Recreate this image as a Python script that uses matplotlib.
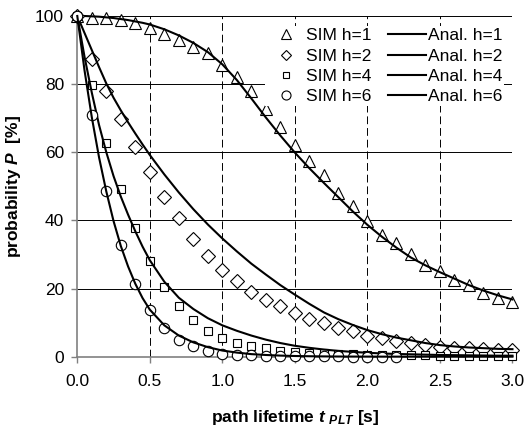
import matplotlib
matplotlib.use("Agg")
import matplotlib.pyplot as plt
from matplotlib.lines import Line2D

plt.rcParams['font.family'] = ['Liberation Sans', 'DejaVu Sans']
plt.rcParams['mathtext.fontset'] = 'custom'
plt.rcParams['mathtext.rm'] = 'Liberation Sans'
plt.rcParams['mathtext.it'] = 'Liberation Sans:italic'
plt.rcParams['mathtext.bf'] = 'Liberation Sans:bold'
plt.rcParams['mathtext.bfit'] = 'Liberation Sans:bold:italic'

# simulation points, every 0.1 s
t_sim = [0.0, 0.1, 0.2, 0.3, 0.4, 0.5, 0.6, 0.7, 0.8, 0.9, 1.0,
         1.1, 1.2, 1.3, 1.4, 1.5, 1.6, 1.7, 1.8, 1.9, 2.0,
         2.1, 2.2, 2.3, 2.4, 2.5, 2.6, 2.7, 2.8, 2.9, 3.0]
sim_h1 = [100, 99.5, 99.3, 98.8, 97.8, 96.6, 94.6, 93.0, 91.0, 89.0, 85.6,
          82.2, 78.0, 72.8, 67.5, 62.0, 57.5, 53.4, 48.0, 44.3, 39.7,
          35.8, 33.3, 30.0, 27.0, 25.2, 22.6, 21.0, 18.8, 17.2, 16.0]
sim_h2 = [100, 87.4, 78.0, 69.8, 61.6, 54.3, 47.0, 40.6, 34.5, 29.6, 25.4,
          22.3, 19.1, 16.7, 15.0, 12.8, 11.1, 10.0, 8.3, 7.5, 6.2,
          5.4, 4.6, 3.9, 3.4, 2.9, 2.5, 2.5, 2.2, 2.0, 2.0]
sim_h4 = [100, 79.7, 62.6, 49.3, 37.7, 28.1, 20.4, 14.8, 10.9, 7.6, 5.6,
          4.1, 3.0, 2.5, 1.7, 1.5, 1.2, 1.0, 0.8, 0.7, 0.6,
          0.5, 0.45, 0.4, 0.35, 0.3, 0.3, 0.25, 0.25, 0.2, 0.2]
sim_h6 = [100, 71.0, 48.7, 32.7, 21.4, 13.7, 8.3, 4.8, 3.1, 1.7, 0.8,
          0.6, 0.4, 0.3, 0.2, 0.2, 0.1, 0.1, 0.1, 0.05, 0.05,
          0.0, 0.0]

# analytical curves
t_ana = [0.0, 0.05, 0.1, 0.15, 0.2, 0.25, 0.3, 0.35, 0.4, 0.45, 0.5,
         0.6, 0.7, 0.8, 0.9, 1.0, 1.1, 1.2, 1.3, 1.4, 1.5,
         1.6, 1.7, 1.8, 1.9, 2.0, 2.1, 2.2, 2.3, 2.4, 2.5,
         2.6, 2.7, 2.8, 2.9, 3.0]
ana_h1 = [100, 100, 99.9, 99.8, 99.6, 99.4, 99.1, 98.8, 98.4, 98.0, 97.5,
          96.1, 94.3, 92.1, 89.4, 85.8, 81.2, 75.8, 70.2, 64.9, 59.9,
          55.3, 51.0, 46.8, 42.6, 38.7, 35.2, 32.0, 29.1, 26.8, 24.8,
          22.9, 21.0, 19.4, 18.0, 16.8]
ana_h2 = [100, 95.0, 90.0, 85.0, 80.2, 76.0, 72.3, 68.8, 65.5, 62.3, 59.2,
          53.5, 48.2, 43.3, 38.8, 34.7, 30.9, 27.3, 24.1, 21.0, 18.2,
          15.5, 13.0, 11.0, 9.3, 7.8, 6.6, 5.6, 4.8, 4.0, 3.4,
          3.0, 2.7, 2.5, 2.3, 2.2]
ana_h4 = [100, 88.0, 77.5, 68.0, 60.0, 53.0, 47.0, 41.7, 36.8, 32.3, 28.3,
          22.0, 17.3, 14.0, 11.3, 9.2, 7.6, 6.2, 5.0, 4.0, 3.2,
          2.6, 2.1, 1.7, 1.4, 1.15, 0.95, 0.8, 0.7, 0.6, 0.5,
          0.45, 0.4, 0.35, 0.3, 0.3]
ana_h6 = [100, 84.0, 70.3, 58.5, 48.5, 39.8, 32.5, 26.5, 21.4, 17.2, 13.8,
          9.2, 6.2, 4.2, 2.8, 1.8, 1.2, 0.75, 0.5, 0.32, 0.2,
          0.13, 0.08, 0.05, 0.03, 0.02, 0.01, 0.01, 0.0, 0.0, 0.0,
          0.0, 0.0, 0.0, 0.0, 0.0]

x_ticks = [0.0, 0.5, 1.0, 1.5, 2.0, 2.5, 3.0]
y_ticks = [0, 20, 40, 60, 80, 100]

fs = 12.5
fig = plt.figure(figsize=(5.24, 4.30), dpi=100)
ax = fig.add_axes([0.1475, 0.1705, 0.8305, 0.7923])

mk = dict(linestyle='none', mfc='white', mec='black', mew=0.8, clip_on=False)
ln = dict(color='black', lw=1.5, clip_on=False)

s1, = ax.plot(t_sim, sim_h1, marker='^', ms=8.5, zorder=3, **mk)
a1, = ax.plot(t_ana, ana_h1, zorder=4, **ln)
s2, = ax.plot(t_sim, sim_h2, marker='D', ms=7, zorder=5, **mk)
a2, = ax.plot(t_ana, ana_h2, zorder=6, **ln)
s4, = ax.plot(t_sim, sim_h4, marker='s', ms=5.8, zorder=7, **mk)
a4, = ax.plot(t_ana, ana_h4, zorder=8, **ln)
s6, = ax.plot(t_sim[:len(sim_h6)], sim_h6, marker='o', ms=7.5, zorder=9, **mk)
a6, = ax.plot(t_ana, ana_h6, zorder=10, **ln)

ax.set_xlim(0, 3.0)
ax.set_ylim(0, 100)
ax.set_xticks(x_ticks)
ax.set_xticklabels(['%.1f' % v for v in x_ticks])
ax.set_yticks(y_ticks)

for y in y_ticks[1:]:
    ax.axhline(y, color='black', lw=0.7, zorder=1)
for x in x_ticks[1:]:
    ax.axvline(x, color='black', lw=0.7, dashes=(8, 4), zorder=1)

for s in ['top', 'right']:
    ax.spines[s].set_visible(False)
for s in ['left', 'bottom']:
    ax.spines[s].set_color('#808080')
    ax.spines[s].set_linewidth(1.2)

ax.tick_params(direction='out', length=4.5, width=1, color='#808080',
               labelsize=fs, pad=5)
ax.tick_params(axis='x', pad=8)

ax.set_ylabel(r'probability $\mathbfit{P}$  [%]', fontsize=fs,
              fontweight='bold', labelpad=9)
ax.set_xlabel(r'path lifetime $\mathbfit{t}\ _{\mathbfit{PLT}}$ [s]',
              fontsize=fs, fontweight='bold', labelpad=14)

leg_marks = [Line2D([], [], marker=m, ms=z, ls='none', mfc='white', mec='black', mew=0.8)
             for m, z in [('^', 7), ('D', 5.5), ('s', 5), ('o', 6.5)]]
leg_lines = [Line2D([], [], color='black', lw=1.5) for _ in range(4)]
labels = ['SIM h=1', 'SIM h=2', 'SIM h=4', 'SIM h=6',
          'Anal. h=1', 'Anal. h=2', 'Anal. h=4', 'Anal. h=6']
leg = ax.legend(leg_marks + leg_lines, labels, ncol=2, loc='upper right',
                bbox_to_anchor=(1.0, 0.995), fontsize=fs, frameon=True,
                facecolor='white', edgecolor='none', framealpha=1,
                fancybox=False, handlelength=2.2, handletextpad=0.1,
                columnspacing=0.9, labelspacing=0.3, borderpad=0.1)
leg.set_zorder(20)

plt.savefig('out.png', dpi=100)
